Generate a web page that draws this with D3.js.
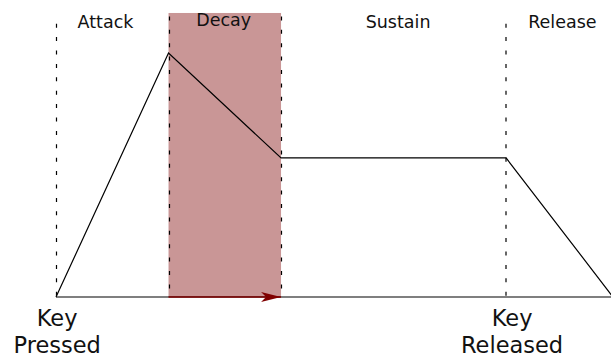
<!DOCTYPE html>
<html><head><meta charset="utf-8">
<script src="https://cdn.jsdelivr.net/npm/d3@7"></script>
<style>html,body{margin:0;padding:0;background:#fff;}svg{display:block;}</style>
</head><body><div id="chart"></div>
<script>
// Envelope breakpoints (time units, level 0..1)
const times = [0, 1, 2, 4, 4.95];
const levels = [0, 1, 0.57, 0.57, 0];
// Phase boundaries (dashed lines)
const boundaries = [0, 1, 2, 4];
// Phase labels
const phaseNames = ["Attack", "Decay", "Sustain", "Release"];
const phaseLabelT = [0.44, 1.49, 3.04, 4.5];
// Bottom event labels
const eventLines = [["Key", "Pressed"], ["Key", "Released"]];
const eventT = [0.01, 4.053];
// Highlighted phase (Decay)
const highlight = [1, 2];

const W = 611, H = 358;
const svg = d3.select("#chart").append("svg").attr("width", W).attr("height", H);
const x = d3.scaleLinear().domain([0, 4.95]).range([56, 613]);
const y = d3.scaleLinear().domain([0, 1]).range([297, 53]);

// highlight rect
svg.append("rect")
  .attr("x", x(highlight[0])).attr("y", y(1.164))
  .attr("width", x(highlight[1]) - x(highlight[0]))
  .attr("height", y(0) - y(1.164))
  .attr("fill", "#c99696");

// dashed boundaries
svg.selectAll("line.b").data(boundaries).join("line")
  .attr("class", "b")
  .attr("x1", d => Math.round(x(d)) + (d === 4 ? 0 : 0.5))
  .attr("x2", d => Math.round(x(d)) + (d === 4 ? 0 : 0.5))
  .attr("y1", d => (d === 1 || d === 2) ? y(1.15) : y(1.12))
  .attr("y2", y(0))
  .attr("stroke", "#000").attr("stroke-width", 1.2)
  .attr("stroke-dasharray", "4,9.4");

// baseline
svg.append("line")
  .attr("x1", x(0)).attr("x2", W).attr("y1", y(0)).attr("y2", y(0))
  .attr("stroke", "#000").attr("stroke-width", 1.2);

// arrow over highlighted phase
svg.append("defs").append("marker")
  .attr("id", "arr").attr("viewBox", "0 0 20 10")
  .attr("refX", 20).attr("refY", 5)
  .attr("markerWidth", 20).attr("markerHeight", 10)
  .attr("markerUnits", "userSpaceOnUse").attr("orient", "auto")
  .append("path").attr("d", "M0,0 L20,5 L0,10 L5,5 Z").attr("fill", "#800000");
svg.append("line")
  .attr("x1", x(highlight[0])).attr("x2", x(highlight[1]))
  .attr("y1", y(0)).attr("y2", y(0))
  .attr("stroke", "#800000").attr("stroke-width", 1.5)
  .attr("marker-end", "url(#arr)");

// envelope
const pts = times.map((t, i) => [t, levels[i]]);
svg.append("path")
  .attr("d", d3.line().x(d => x(d[0])).y(d => y(d[1]))(pts))
  .attr("fill", "none").attr("stroke", "#000").attr("stroke-width", 1.2);

// phase labels
const font = "'DejaVu Sans', sans-serif";
svg.selectAll("text.p").data(phaseNames).join("text")
  .attr("class", "p")
  .attr("x", (d, i) => x(phaseLabelT[i]))
  .attr("y", (d, i) => i === 1 ? 26 : 28)
  .attr("text-anchor", "middle")
  .attr("font-family", font).attr("font-size", 17.5)
  .attr("fill", "#111").text(d => d);

// event labels
eventLines.forEach((lines, i) => {
  const t = svg.append("text")
    .attr("text-anchor", "middle")
    .attr("font-family", font).attr("font-size", 22.5).attr("fill", "#111");
  lines.forEach((s, j) => {
    t.append("tspan").attr("x", x(eventT[i]))
      .attr("y", 326 + j * 26.5).text(s);
  });
});
</script></body></html>
